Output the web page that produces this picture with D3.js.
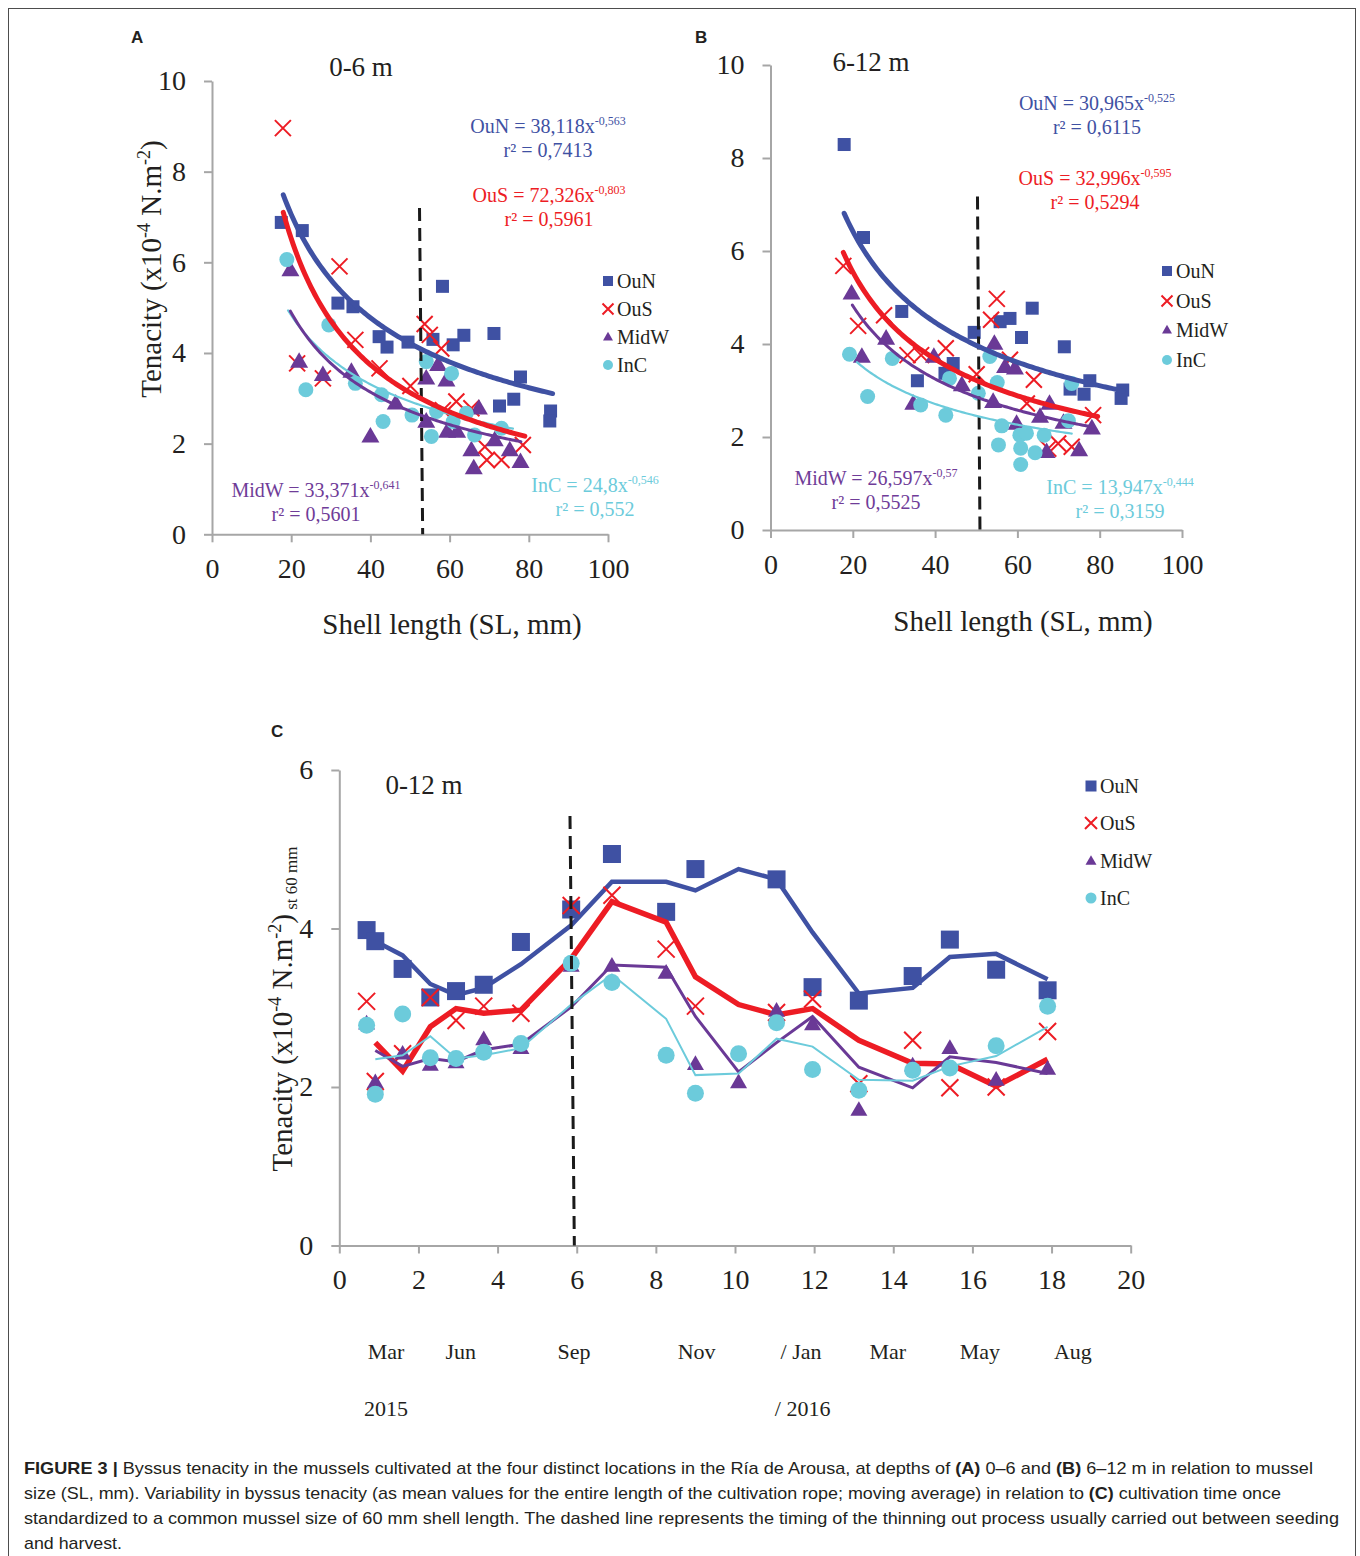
<!DOCTYPE html>
<html>
<head>
<meta charset="utf-8">
<script src="https://cdnjs.cloudflare.com/ajax/libs/d3/7.8.5/d3.min.js"></script>
<style>
body { margin: 0; background: #fff; }
svg { display: block; }
.axis path, .axis line { stroke: #a6a6a6; stroke-width: 2; }
.axis text { font-family: "Liberation Serif", "Times New Roman", serif; font-size: 28px; fill: #231f20; }
</style>
</head>
<body>
<div id="fig"></div>
<script>
var W = 1360, H = 1556;
var serif = '"Liberation Serif", "Times New Roman", serif';
var sans = '"Liberation Sans", Arial, sans-serif';
var ink = "#231f20";

// series
var seriesNames = ["OuN", "OuS", "MidW", "InC"];
var seriesColors = ["#3f51a3", "#ed1c24", "#6a3996", "#6ccbdb"];
var seriesShapes = ["square", "cross", "triangle", "circle"];

// panel A (0-6 m): [shell length, tenacity]
var aOuN = [[17.5,6.88],[22.8,6.70],[31.8,5.10],[35.6,5.02],[58.2,5.47],[42.2,4.36],[44.2,4.13],[49.5,4.24],
            [55.8,4.30],[60.9,4.18],[63.6,4.39],[71.2,4.43],[77.9,3.47],[76.2,2.98],[72.6,2.83],[85.5,2.72],[85.3,2.50]];
var aOuS = [[17.9,8.96],[32.2,5.91],[36.2,4.29],[21.5,3.77],[28.0,3.44],[42.3,3.66],[50.1,3.27],[53.7,4.64],
            [55.0,4.40],[57.9,4.10],[61.7,2.93],[65.5,2.78],[58.3,2.74],[68.9,1.93],[69.4,1.64],[73.1,1.64],[78.5,1.97]];
var aMidW = [[19.8,5.83],[22.0,3.81],[28.0,3.52],[35.2,3.59],[40.0,2.16],[46.4,2.89],[54.1,3.44],[57.1,3.74],
             [59.2,3.40],[54.1,2.49],[59.4,2.27],[61.9,2.27],[67.4,2.78],[65.5,1.86],[66.1,1.46],[71.4,2.08],[75.2,1.86],[77.9,1.60]];
var aInC = [[18.9,6.06],[29.5,4.62],[23.7,3.19],[36.2,3.33],[42.8,3.08],[43.2,2.49],[50.5,2.63],[54.1,3.81],
            [55.4,2.16],[60.5,3.55],[56.7,2.71],[60.9,2.49],[64.2,2.67],[66.3,2.19],[73.1,2.34]];
// power fits y = a * x^b, as printed on panel A
var aFitCoef = [38.118, 72.326, 33.371, 24.8];
var aFitExp = [-0.563, -0.803, -0.641, -0.546];
var aFitFrom = [18, 18, 19.8, 19.2];
var aFitTo = [86, 79, 78, 76];
var aEquations = [["OuN = 38,118x", "-0,563", "r\u00b2 = 0,7413"], ["OuS = 72,326x", "-0,803", "r\u00b2 = 0,5961"],
                  ["MidW = 33,371x", "-0,641", "r\u00b2 = 0,5601"], ["InC = 24,8x", "-0,546", "r\u00b2 = 0,552"]];
var aThin = [[52.4, 7.2], [53.2, 0]];

// panel B (6-12 m)
var bOuN = [[17.9,8.29],[22.6,6.29],[31.9,4.70],[35.7,3.21],[44.4,3.58],[42.4,3.37],[49.5,4.25],[55.8,4.48],
            [58.2,4.55],[63.6,4.77],[61.0,4.14],[71.4,3.94],[77.6,3.21],[72.8,3.03],[76.2,2.92],[85.6,3.01],[85.2,2.83]];
var bOuS = [[17.7,5.68],[21.3,4.39],[27.6,4.62],[33.3,3.76],[36.6,3.76],[42.6,3.91],[50.1,3.35],[55.0,4.97],
            [53.6,4.52],[58.2,3.66],[64.0,3.23],[62.3,2.72],[69.9,1.86],[73.2,1.79],[78.4,2.47],[67.5,1.75]];
var bMidW = [[19.7,5.09],[22.2,3.73],[28.1,4.12],[34.7,2.72],[39.7,3.73],[46.5,3.12],[54.4,4.01],[57.0,3.51],
             [59.4,3.48],[54.1,2.76],[59.8,2.29],[65.5,2.44],[67.8,2.72],[67.1,1.68],[75.0,1.72],[78.1,2.19],[71.2,2.31]];
var bInC = [[19.2,3.78],[23.6,2.87],[29.6,3.69],[36.5,2.69],[42.6,2.47],[43.5,3.26],[50.5,2.94],[53.3,3.73],
            [55.1,3.17],[56.2,2.24],[55.4,1.83],[60.6,2.04],[62.2,2.08],[60.8,1.76],[60.8,1.41],[64.3,1.66],
            [66.5,2.04],[73.2,3.15],[72.4,2.35]];
var bFitCoef = [30.965, 32.996, 26.597, 13.947];
var bFitExp = [-0.525, -0.595, -0.57, -0.444];
var bFitFrom = [17.9, 17.7, 19.9, 21];
var bFitTo = [85.7, 79.5, 78.4, 73.2];
var bEquations = [["OuN = 30,965x", "-0,525", "r\u00b2 = 0,6115"], ["OuS = 32,996x", "-0,595", "r\u00b2 = 0,5294"],
                  ["MidW = 26,597x", "-0,57", "r\u00b2 = 0,5525"], ["InC = 13,947x", "-0,444", "r\u00b2 = 0,3159"]];
var bThin = [[50.3, 7.17], [50.9, 0]];

// panel C (0-12 m): months since seeding
var cPointX = [0.69, 0.91, 1.60, 2.30, 2.95, 3.65, 4.59, 5.86, 6.89, 8.26, 9.00, 10.09, 11.05, 11.96, 13.13, 14.49, 15.43, 16.60, 17.90];
var cOuN  = [3.98, 3.84, 3.49, 3.13, 3.21, 3.29, 3.83, 4.24, 4.94, 4.21, 4.75, null, 4.62, 3.26, 3.09, 3.40, 3.86, 3.48, 3.22];
var cOuS  = [3.08, 2.07, 2.42, 3.13, 2.84, 3.02, 2.93, 4.29, 4.42, 3.74, 3.02, null, 2.94, 3.11, 2.04, 2.59, 1.99, 2.00, 2.70];
var cMidW = [2.80, 2.06, 2.42, 2.28, 2.31, 2.60, 2.49, 3.53, 3.53, 3.44, 2.29, 2.06, 2.96, 2.79, 1.71, 2.27, 2.49, 2.09, 2.23];
var cInC  = [2.78, 1.91, 2.92, 2.37, 2.36, 2.44, 2.55, 3.56, 3.32, 2.40, 1.92, 2.42, 2.81, 2.22, 1.96, 2.21, 2.24, 2.52, 3.02];
// moving averages
var cLineX = [0.91, 1.60, 2.30, 2.95, 3.65, 4.59, 5.86, 6.89, 8.26, 9.00, 10.09, 11.05, 11.96, 13.13, 14.49, 15.43, 16.60, 17.90];
var cOuNAvg  = [3.84, 3.66, 3.30, 3.16, 3.25, 3.55, 4.04, 4.59, 4.59, 4.48, 4.75, 4.62, 3.95, 3.18, 3.25, 3.64, 3.68, 3.36];
var cOuSAvg  = [2.56, 2.20, 2.76, 2.99, 2.93, 2.97, 3.62, 4.34, 4.08, 3.39, 3.04, 2.91, 2.99, 2.59, 2.30, 2.29, 2.01, 2.35];
var cMidWAvg = [2.46, 2.26, 2.36, 2.32, 2.47, 2.54, 3.01, 3.54, 3.51, 2.89, 2.19, 2.56, 2.89, 2.25, 1.99, 2.38, 2.31, 2.17];
var cInCAvg  = [2.35, 2.40, 2.64, 2.36, 2.40, 2.49, 3.04, 3.42, 2.86, 2.15, 2.17, 2.61, 2.51, 2.09, 2.08, 2.26, 2.39, 2.76];
var cThin = [[5.83, 5.42], [5.94, 0]];
var cMonths = ["Mar", "Jun", "Sep", "Nov", "/ Jan", "Mar", "May", "Aug"];
var cMonthAt = [1.18, 3.07, 5.93, 9.03, 11.67, 13.86, 16.19, 18.54];
var cYears = ["2015", "/ 2016"];
var cYearAt = [1.18, 11.71];

var caption = [
  [["FIGURE 3 | ", true], ["Byssus tenacity in the mussels cultivated at the four distinct locations in the R\u00eda de Arousa, at depths of ", false], ["(A)", true], [" 0\u20136 and ", false], ["(B)", true], [" 6\u201312 m in relation to mussel", false]],
  [["size (SL, mm). Variability in byssus tenacity (as mean values for the entire length of the cultivation rope; moving average) in relation to ", false], ["(C)", true], [" cultivation time once", false]],
  [["standardized to a common mussel size of 60 mm shell length. The dashed line represents the timing of the thinning out process usually carried out between seeding", false]],
  [["and harvest.", false]]
];
var captionWidths = [1289, 1257, 1315, 98];

var svg = d3.select("#fig").append("svg").attr("width", W).attr("height", H);

// outer frame
svg.append("rect").attr("x", 8.5).attr("y", 8.5).attr("width", 1347).attr("height", 1600)
  .attr("fill", "none").attr("stroke", "#4d4d4d").attr("stroke-width", 1);

function marker(g, shape, x, y, s, color) {
  if (shape === "square") {
    g.append("rect").attr("x", x - s / 2).attr("y", y - s / 2).attr("width", s).attr("height", s).attr("fill", color);
  } else if (shape === "circle") {
    g.append("circle").attr("cx", x).attr("cy", y).attr("r", s / 2).attr("fill", color);
  } else if (shape === "triangle") {
    var h = s * 0.866;
    g.append("path").attr("d", "M" + x + "," + (y - h * 0.6) + "L" + (x + s / 2) + "," + (y + h * 0.4) + "L" + (x - s / 2) + "," + (y + h * 0.4) + "Z")
      .attr("fill", color);
  } else {
    var d = s / 2;
    g.append("path").attr("d", "M" + (x - d) + "," + (y - d) + "L" + (x + d) + "," + (y + d) + "M" + (x - d) + "," + (y + d) + "L" + (x + d) + "," + (y - d))
      .attr("stroke", color).attr("stroke-width", 2).attr("fill", "none");
  }
}

function axes(g, x, y, xTicks, yTicks, pad) {
  g.append("g").attr("class", "axis").attr("transform", "translate(0," + y.range()[0] + ")")
    .call(d3.axisBottom(x).tickValues(xTicks).tickFormat(d3.format("d")).tickSize(8).tickSizeOuter(0).tickPadding(pad));
  g.append("g").attr("class", "axis").attr("transform", "translate(" + x.range()[0] + ",0)")
    .call(d3.axisLeft(y).tickValues(yTicks).tickFormat(d3.format("d")).tickSize(8).tickSizeOuter(0).tickPadding(18));
}

function dashed(g, x, y, pts) {
  g.append("line").attr("x1", x(pts[0][0])).attr("y1", y(pts[0][1])).attr("x2", x(pts[1][0])).attr("y2", y(pts[1][1]))
    .attr("stroke", "#1a1a1a").attr("stroke-width", 3).attr("stroke-dasharray", "13,7");
}

function legend(g, lx, rows, size) {
  seriesNames.forEach(function (n, i) {
    marker(g, seriesShapes[i], lx, rows[i], seriesShapes[i] === "cross" ? size + 1 : size, seriesColors[i]);
    g.append("text").attr("x", lx + 9).attr("y", rows[i] + 7).attr("font-family", serif).attr("font-size", 20)
      .attr("fill", ink).text(n);
  });
}

function equation(g, cx, by, eq, color) {
  var t = g.append("text").attr("x", cx).attr("y", by).attr("text-anchor", "middle")
    .attr("font-family", serif).attr("font-size", 20).attr("fill", color);
  t.append("tspan").text(eq[0]);
  t.append("tspan").attr("font-size", 12).attr("dy", -8).text(eq[1]);
  g.append("text").attr("x", cx).attr("y", by + 24).attr("text-anchor", "middle")
    .attr("font-family", serif).attr("font-size", 20).attr("fill", color).text(eq[2]);
}

function scatterPanel(opt) {
  var g = svg.append("g");
  var x = d3.scaleLinear().domain([0, 100]).range(opt.xr);
  var y = d3.scaleLinear().domain([0, 10]).range(opt.yr);
  axes(g, x, y, d3.range(0, 101, 20), d3.range(0, 11, 2), 16);

  var sizes = {square: 13, cross: 16, triangle: 18, circle: 15};
  opt.data.forEach(function (pts, i) {
    pts.forEach(function (p) {
      marker(g, seriesShapes[i], x(p[0]), y(p[1]), sizes[seriesShapes[i]], seriesColors[i]);
    });
  });
  dashed(g, x, y, opt.thin);

  var widths = [5, 5, 3, 2.2];
  var line = d3.line().x(function (d) { return x(d[0]); }).y(function (d) { return y(d[1]); });
  [0, 3, 2, 1].forEach(function (i) {
    var pts = d3.range(opt.from[i], opt.to[i], 0.5).concat([opt.to[i]]).map(function (v) {
      return [v, opt.coef[i] * Math.pow(v, opt.exp[i])];
    });
    g.append("path").datum(pts).attr("d", line).attr("fill", "none")
      .attr("stroke", seriesColors[i]).attr("stroke-width", widths[i]).attr("stroke-linecap", "round");
  });

  opt.eqPos.forEach(function (p, i) {
    var col = i === 2 ? "#6f3c98" : seriesColors[i];
    equation(g, p[0], p[1], opt.eq[i], col);
  });
  legend(g, opt.legendX, opt.legendRows, 10);

  g.append("text").attr("x", opt.sub[0]).attr("y", opt.sub[1]).attr("text-anchor", "middle")
    .attr("font-family", serif).attr("font-size", 27).attr("fill", ink).text(opt.subtitle);
  g.append("text").attr("x", opt.xt[0]).attr("y", opt.xt[1]).attr("text-anchor", "middle")
    .attr("font-family", serif).attr("font-size", 29).attr("fill", ink).text("Shell length (SL, mm)");
  g.append("text").attr("x", opt.letter[0]).attr("y", opt.letter[1]).attr("font-family", sans)
    .attr("font-weight", "bold").attr("font-size", 17).attr("fill", ink).text(opt.letterText);
  return g;
}

var gA = scatterPanel({
  xr: [212, 608], yr: [534.3, 81],
  data: [aOuN, aOuS, aMidW, aInC],
  coef: aFitCoef, exp: aFitExp, from: aFitFrom, to: aFitTo,
  eq: aEquations, eqPos: [[548, 133], [549, 202], [316, 497], [595, 492]],
  thin: aThin, legendX: 608, legendRows: [281, 309, 337, 365],
  subtitle: "0-6 m", sub: [361, 76], xt: [452, 634], letter: [131, 43], letterText: "A"
});

// y title panel A
var tA = gA.append("text").attr("transform", "translate(161,269) rotate(-90)").attr("text-anchor", "middle")
  .attr("font-family", serif).attr("font-size", 29).attr("fill", ink);
tA.append("tspan").text("Tenacity (x10");
tA.append("tspan").attr("font-size", 18).attr("dy", -11).text("-4");
tA.append("tspan").attr("dy", 11).text(" N.m");
tA.append("tspan").attr("font-size", 18).attr("dy", -11).text("-2");
tA.append("tspan").attr("dy", 11).text(")");

scatterPanel({
  xr: [770.5, 1182], yr: [530, 65],
  data: [bOuN, bOuS, bMidW, bInC],
  coef: bFitCoef, exp: bFitExp, from: bFitFrom, to: bFitTo,
  eq: bEquations, eqPos: [[1097, 110], [1095, 185], [876, 485], [1120, 494]],
  thin: bThin, legendX: 1167, legendRows: [271, 301, 330, 360],
  subtitle: "6-12 m", sub: [871, 71], xt: [1023, 631], letter: [695, 43], letterText: "B"
});

// panel C
var gC = svg.append("g");
var xC = d3.scaleLinear().domain([0, 20]).range([339.3, 1130.7]);
var yC = d3.scaleLinear().domain([0, 6]).range([1245.5, 770]);
axes(gC, xC, yC, d3.range(0, 21, 2), d3.range(0, 7, 2), 16);

var cPoints = [cOuN, cOuS, cMidW, cInC];
var cAvgs = [cOuNAvg, cOuSAvg, cMidWAvg, cInCAvg];
var cWidths = [4.5, 5.5, 3, 2];
var cSizes = {square: 18, cross: 17, triangle: 17, circle: 17};
var lineC = d3.line().x(function (d) { return xC(d[0]); }).y(function (d) { return yC(d[1]); });
seriesNames.forEach(function (n, i) {
  var pts = cLineX.map(function (v, k) { return [v, cAvgs[i][k]]; });
  gC.append("path").datum(pts).attr("d", lineC).attr("fill", "none").attr("stroke", seriesColors[i])
    .attr("stroke-width", cWidths[i]).attr("stroke-linejoin", "miter");
  cPoints[i].forEach(function (v, k) {
    if (v === null) return;
    marker(gC, seriesShapes[i], xC(cPointX[k]), yC(v), cSizes[seriesShapes[i]], seriesColors[i]);
  });
});
dashed(gC, xC, yC, cThin);
legend(gC, 1091, [786, 823, 861, 898], 11);

gC.append("text").attr("x", 424).attr("y", 794).attr("text-anchor", "middle")
  .attr("font-family", serif).attr("font-size", 27).attr("fill", ink).text("0-12 m");
gC.append("text").attr("x", 271).attr("y", 737).attr("font-family", sans)
  .attr("font-weight", "bold").attr("font-size", 17).attr("fill", ink).text("C");

cMonths.forEach(function (m, i) {
  gC.append("text").attr("x", xC(cMonthAt[i])).attr("y", 1359).attr("text-anchor", "middle")
    .attr("font-family", serif).attr("font-size", 22).attr("fill", ink).text(m);
});
cYears.forEach(function (m, i) {
  gC.append("text").attr("x", xC(cYearAt[i])).attr("y", 1416).attr("text-anchor", "middle")
    .attr("font-family", serif).attr("font-size", 22).attr("fill", ink).text(m);
});

var tC = gC.append("text").attr("transform", "translate(292,1009) rotate(-90)").attr("text-anchor", "middle")
  .attr("font-family", serif).attr("font-size", 29).attr("fill", ink);
tC.append("tspan").text("Tenacity (x10");
tC.append("tspan").attr("font-size", 18).attr("dy", -11).text("-4");
tC.append("tspan").attr("dy", 11).text(" N.m");
tC.append("tspan").attr("font-size", 18).attr("dy", -11).text("-2");
tC.append("tspan").attr("dy", 11).text(")");
tC.append("tspan").attr("font-size", 17).attr("dy", 5).text(" st 60 mm");

// caption
caption.forEach(function (parts, i) {
  var t = svg.append("text").attr("x", 24).attr("y", 1474 + i * 25).attr("font-family", sans)
    .attr("font-size", 17).attr("fill", "#231f20")
    .attr("textLength", captionWidths[i]).attr("lengthAdjust", "spacingAndGlyphs");
  parts.forEach(function (p) {
    t.append("tspan").attr("font-weight", p[1] ? "bold" : "normal").text(p[0]);
  });
});
</script>
</body>
</html>
